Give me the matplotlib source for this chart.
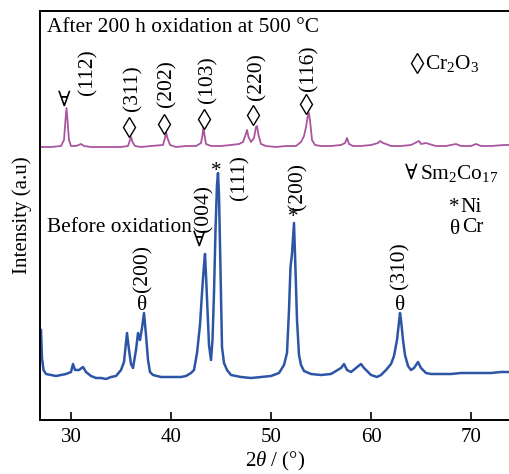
import matplotlib
matplotlib.use("Agg")
import matplotlib.pyplot as plt

plt.rcParams['font.family'] = ['Liberation Serif', 'DejaVu Serif']
plt.rcParams['mathtext.fontset'] = 'custom'
plt.rcParams['mathtext.rm'] = 'Liberation Serif'
plt.rcParams['mathtext.it'] = 'Liberation Serif:italic'
plt.rcParams['mathtext.fallback'] = 'stix'

# ---- data (2theta in degrees, intensity in a.u.) ----
before_2theta = [27.0, 27.1, 27.25, 27.5, 28.0, 28.5, 29.0, 29.5, 30.0, 30.2, 30.4, 30.8, 31.2, 31.5,
                 32.0, 32.5, 33.0, 33.5, 34.0, 34.5, 35.0, 35.3, 35.6, 35.8, 36.0, 36.2, 36.5, 36.7,
                 36.9, 37.1, 37.3, 37.5, 37.7, 37.9, 38.2, 39.0, 40.0, 41.0, 41.5, 42.0, 42.3, 42.6,
                 42.9, 43.1, 43.3, 43.4, 43.5, 43.65, 43.8, 44.0, 44.15, 44.3, 44.45, 44.6, 44.7, 44.8,
                 44.95, 45.1, 45.3, 45.6, 46.0, 47.0, 48.0, 49.0, 50.0, 50.8, 51.3, 51.6, 51.8, 51.95,
                 52.1, 52.3, 52.45, 52.6, 52.8, 53.0, 53.3, 54.0, 55.0, 56.0, 57.0, 57.3, 57.6, 58.0,
                 58.5, 59.0, 59.3, 60.0, 60.6, 61.0, 61.5, 62.0, 62.3, 62.6, 62.8, 62.9, 63.0, 63.2,
                 63.4, 63.7, 64.0, 64.3, 64.7, 65.0, 65.5, 66.0, 67.0, 68.0, 69.0, 70.0, 71.0, 72.0,
                 73.0, 73.9]
before_int = [90, 62, 50, 46, 45, 44, 45, 46, 48, 56, 50, 50, 53, 48,
              44, 42, 42, 41, 43, 44, 50, 58, 87, 70, 56, 52, 70, 87,
              80, 92, 107, 85, 60, 48, 45, 43, 43, 43, 44, 47, 50, 67,
              95, 127, 155, 166, 145, 110, 75, 60, 80, 127, 190, 235, 247, 225,
              150, 73, 57, 50, 45, 43, 42, 43, 44, 47, 55, 67, 110, 153,
              166, 197, 150, 100, 65, 55, 49, 46, 45, 46, 52, 56, 50, 48,
              52, 56, 52, 45, 43, 45, 50, 56, 64, 80, 98, 107, 100, 80,
              65, 54, 50, 52, 58, 52, 47, 46, 46, 46, 47, 47, 47, 47,
              48, 48]

after_2theta = [27.0, 28.0, 29.0, 29.3, 29.45, 29.55, 29.65, 29.8, 30.0, 30.5, 31.0, 31.3, 32.0, 33.0,
                34.0, 35.0, 35.7, 35.9, 36.0, 36.15, 36.4, 37.0, 38.0, 39.2, 39.4, 39.5, 39.65, 39.9,
                40.5, 41.5, 42.5, 43.0, 43.15, 43.25, 43.35, 43.5, 44.0, 45.0, 46.0, 46.8, 47.2, 47.45,
                47.6, 47.75, 48.0, 48.3, 48.5, 48.6, 48.75, 49.0, 49.5, 50.5, 51.5, 52.5, 53.0, 53.3,
                53.5, 53.7, 53.8, 53.95, 54.1, 54.4, 55.0, 56.0, 57.0, 57.4, 57.6, 57.8, 58.2, 59.0,
                60.0, 60.7, 60.9, 61.2, 61.5, 62.0, 63.0, 64.0, 64.6, 64.8, 65.0, 65.5, 65.8, 66.5,
                67.5, 68.5, 69.0, 70.0, 70.5, 71.0, 72.0, 73.3, 73.9]
after_int = [273, 273, 274, 280, 300, 312, 300, 280, 274, 274, 276, 274, 273, 273,
             273, 273, 274, 280, 283, 278, 274, 273, 274, 275, 282, 288, 282, 275,
             273, 274, 274, 277, 285, 293, 285, 276, 274, 274, 275, 276, 278, 285,
             290, 283, 278, 282, 293, 294, 285, 276, 274, 273, 274, 274, 278, 284,
             293, 305, 307, 295, 280, 275, 274, 274, 275, 277, 282, 276, 274, 274,
             275, 277, 279, 277, 276, 274, 274, 275, 278, 279, 276, 277, 276, 274,
             274, 276, 274, 274, 276, 274, 274, 275, 275]

x_ticks = [30, 40, 50, 60, 70]

W, H = 509, 474
fig = plt.figure(figsize=(W / 100, H / 100), dpi=100)
ax = fig.add_axes([40 / W, 54 / H, 471 / W, 409 / H])

blue = '#2D55A5'
pink = '#A9559F'
ax.plot(before_2theta, before_int, color=blue, lw=1.8, solid_joinstyle='round')
ax.plot(after_2theta, after_int, color=pink, lw=1.3, solid_joinstyle='round')

ax.set_xlim(26.9, 74.0)
ax.set_ylim(0, 409)
ax.set_xticks(x_ticks)
ax.set_yticks([])
ax.tick_params(axis='x', direction='in', length=6, width=1.2, labelsize=15, pad=6)
for s in ax.spines.values():
    s.set_linewidth(1.4)
ax.spines['right'].set_visible(False)

ax.set_xlabel(r'2$\it{\theta}$ / (°)', fontsize=15, labelpad=2)
ax.set_ylabel('Intensity (a.u)', fontsize=15, labelpad=6)

fs = 15.4
rfs = 15.5
ax.text(27.6, 393, 'After 200 h oxidation at 500 °C', fontsize=fs, ha='left', va='center')
ax.text(27.6, 193, 'Before oxidation', fontsize=fs, ha='left', va='center')

# Rotated Miller indices
for x, y, s in [(31.7, 348, '(112)'), (36.2, 332, '(311)'), (39.6, 336, '(202)'),
                (43.7, 340, '(103)'), (48.6, 343, '(220)'), (53.8, 352, '(116)'),
                (43.3, 212, '(004)'), (46.9, 242, '(111)'), (52.7, 234, '(200)'),
                (37.2, 152, '(200)'), (62.9, 154, '(310)')]:
    ax.text(x, y, s, fontsize=rfs, rotation=90, ha='center', va='center')

# Phase symbols
dia = dict(marker='d', ms=10, mfc='white', mec='black', mew=1.0, ls='none')
ax.plot([35.8, 39.3, 43.3, 48.2, 53.5, 64.6], [293, 296, 301, 305, 316, 357], **dia)
for x, y in [(29.3, 320), (42.8, 180)]:
    ax.text(x, y, '∀', fontsize=15, ha='center', va='center', family=['DejaVu Serif'])
for x, y in [(44.55, 249), (52.2, 202)]:
    ax.text(x, y, '*', fontsize=15, ha='center', va='center')
for x, y in [(37.1, 115), (62.9, 115)]:
    ax.text(x, y, 'θ', fontsize=fs, ha='center', va='center')

# Legend-like labels
ax.text(65.4, 357, r'Cr$_2$O$_3$', fontsize=fs, ha='left', va='center')
ax.text(64.0, 247, '∀', fontsize=15, ha='center', va='center', family=['DejaVu Serif'])
ax.text(64.9, 247, r'Sm$_2$Co$_{17}$', fontsize=fs, ha='left', va='center')
ax.text(68.3, 212, '*', fontsize=15, ha='center', va='center')
ax.text(68.9, 213, 'Ni', fontsize=fs, ha='left', va='center')
ax.text(68.4, 190, 'θ', fontsize=fs, ha='center', va='center')
ax.text(69.1, 192, 'Cr', fontsize=fs, ha='left', va='center')

fig.savefig('out.png', dpi=100)
